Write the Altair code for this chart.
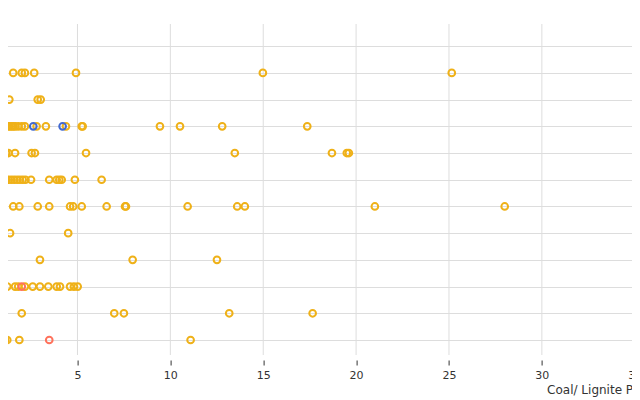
import altair as alt
import pandas as pd

# Row categories, top to bottom (labels lie off the visible area)
rows = ["Row 1", "Row 2", "Row 3", "Row 4", "Row 5", "Row 6",
        "Row 7", "Row 8", "Row 9", "Row 10", "Row 11", "Row 12"]
groups = ["Group A", "Group B", "Group C"]
group_colors = ["#4269d0", "#efb118", "#ff725c"]

# Values per row and group (Group B = gold, Group A = blue, Group C = red)
row2_b = [0.97, 1.54, 2.0, 2.17, 2.67, 4.92, 14.98, 25.15]
row3_b = [0.92, 1.33, 2.86, 3.02]
row4_b = [0.85, 0.95, 1.05, 1.15, 1.25, 1.35, 1.45, 1.55, 1.65, 1.81, 2.0, 2.17,
          2.80, 3.30, 4.38, 5.23, 5.28, 9.44, 10.52, 12.79, 17.37]
row4_a = [2.62, 4.20]
row5_b = [1.15, 1.28, 1.64, 2.53, 2.71, 5.46, 13.47, 18.70, 19.50, 19.61]
row5_c = [0.80]
row6_b = [0.85, 1.0, 1.15, 1.3, 1.45, 1.6, 1.75, 1.9, 2.05, 2.2, 2.50, 3.48,
          3.88, 4.02, 4.15, 4.86, 6.30]
row7_b = [1.54, 1.87, 2.86, 3.48, 4.60, 4.77, 5.23, 6.57, 7.56, 7.61, 10.93,
          13.60, 14.01, 21.01, 28.0]
row8_b = [0.92, 1.37, 4.50]
row9_b = [2.98, 7.97, 12.51]
row10_b = [1.22, 1.64, 1.81, 2.17, 2.59, 2.98, 3.43, 3.88, 4.06, 4.60, 4.81, 5.01]
row10_c = [0.80, 2.0]
row11_b = [2.0, 6.98, 7.50, 13.17, 17.66]
row12_b = [1.10, 1.22, 1.87, 11.09]
row12_a = [0.88]
row12_c = [3.48]

# x tick values (also used for the vertical grid lines)
x_ticks = [0, 5, 10, 15, 20, 25, 30, 35, 40]

series = [
    ("Row 2", "Group B", row2_b), ("Row 3", "Group B", row3_b),
    ("Row 4", "Group B", row4_b), ("Row 4", "Group A", row4_a),
    ("Row 5", "Group B", row5_b), ("Row 5", "Group C", row5_c),
    ("Row 6", "Group B", row6_b), ("Row 7", "Group B", row7_b),
    ("Row 8", "Group B", row8_b), ("Row 9", "Group B", row9_b),
    ("Row 10", "Group B", row10_b), ("Row 10", "Group C", row10_c),
    ("Row 11", "Group B", row11_b),
    ("Row 12", "Group B", row12_b), ("Row 12", "Group A", row12_a),
    ("Row 12", "Group C", row12_c),
]
records = [{"row": r, "group": g, "value": v} for r, g, vals in series for v in vals]
df = pd.DataFrame(records)
grid_df = pd.DataFrame({"value": x_ticks})

FONT = "DejaVu Sans"
PLOT_H = 331

x_scale = alt.Scale(domain=[0, 40], nice=False, zero=False)

grid = alt.Chart(grid_df).mark_rule(color="#dddddd", strokeWidth=1).encode(
    x=alt.X("value:Q", scale=x_scale,
            axis=alt.Axis(values=x_ticks, offset=5, tickSize=5, domain=False,
                          grid=False,
                          labelFont=FONT, labelFontSize=11, labelPadding=4,
                          labelColor="#333333", tickColor="#333333",
                          title="Coal/ Lignite Percentage", titleFont=FONT,
                          titleFontSize=12, titleFontWeight="normal",
                          titleColor="#333333", titleAlign="left", titleX=562)),
    y=alt.value(0),
    y2=alt.value(PLOT_H),
)

points = alt.Chart(df).mark_point(filled=False, size=45, strokeWidth=2, opacity=1).encode(
    x=alt.X("value:Q", scale=x_scale),
    y=alt.Y("row:N",
            scale=alt.Scale(type="point", domain=rows, range=[22.2, 316], padding=0),
            axis=alt.Axis(labels=False, ticks=False, domain=False, grid=True,
                          gridColor="#dddddd", title=None)),
    color=alt.Color("group:N",
                    scale=alt.Scale(domain=groups, range=group_colors),
                    legend=None),
)

chart = alt.layer(grid, points).properties(
    width=743, height=PLOT_H,
    autosize=alt.AutoSizeParams(type="none"),
    padding={"left": -23.4, "top": 16, "right": -95.6, "bottom": 45},
).configure_view(strokeWidth=0)

chart.save("out.html", embed_options={"renderer": "svg", "actions": False})
